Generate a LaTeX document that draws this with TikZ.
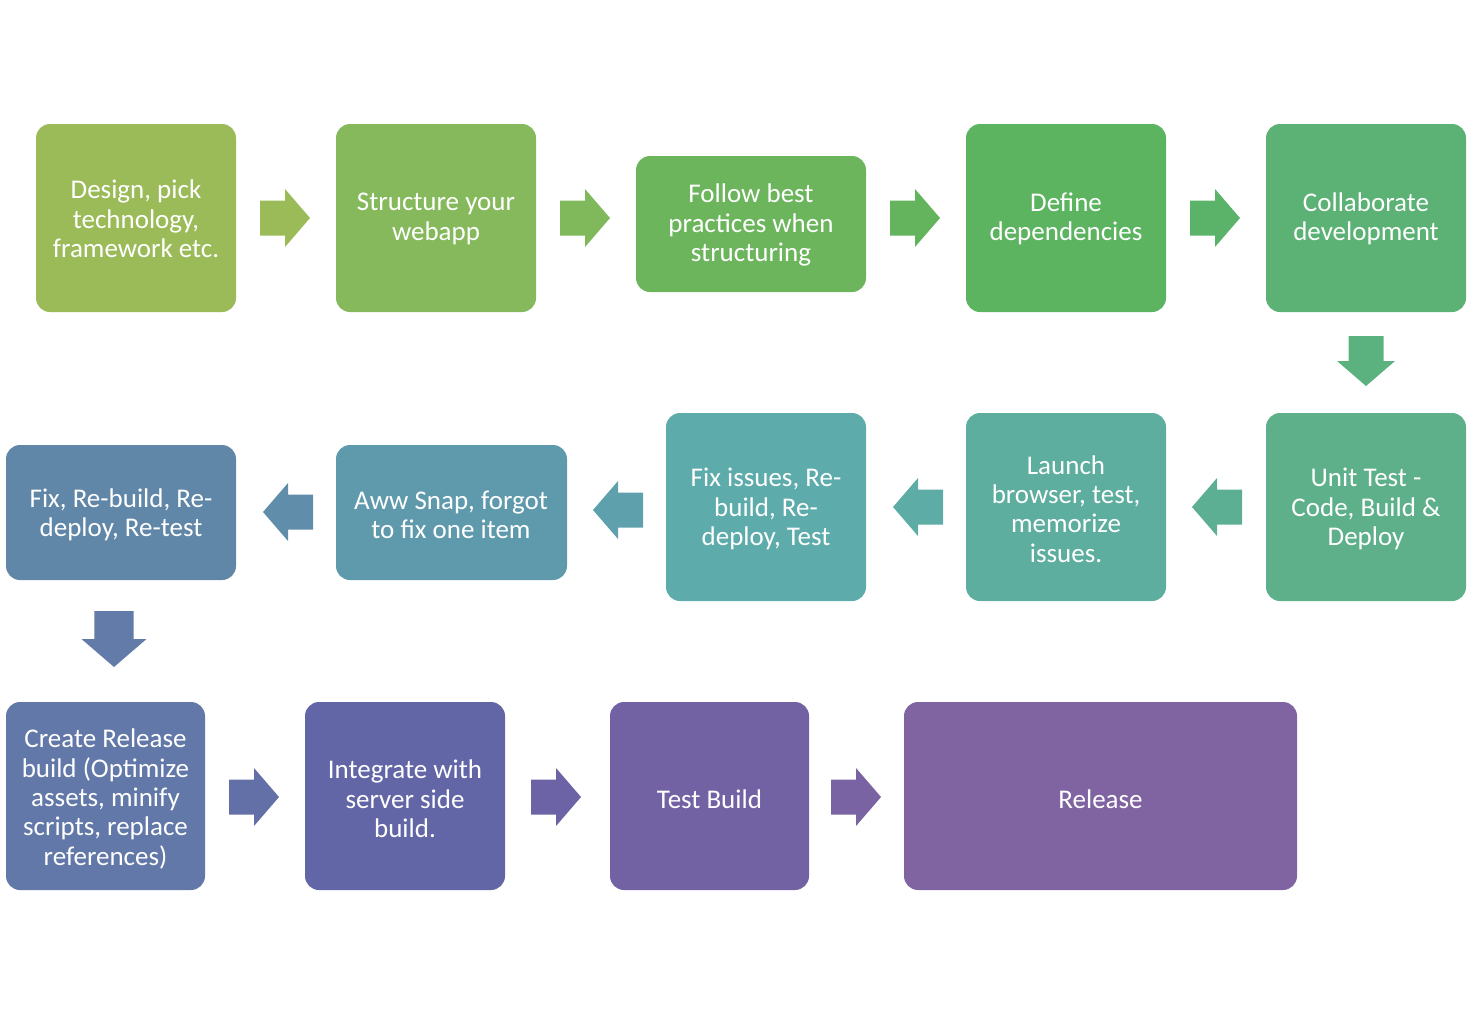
\documentclass[tikz,border=0pt]{standalone}
\usepackage{fontspec}
\setmainfont{Carlito}
\begin{document}
\begin{tikzpicture}[x=1pt,y=-1pt,
  box/.style={rounded corners=14pt,draw=none,text=white,align=center,
    font=\fontsize{27}{29.3}\selectfont,inner sep=0pt},
  rarr/.pic={\fill (-25,-17.5) -- (0,-17.5) -- (0,-29) -- (25,0) -- (0,29) -- (0,17.5) -- (-25,17.5) -- cycle;},
  larr/.pic={\fill (25,-17.5) -- (0,-17.5) -- (0,-29) -- (-25,0) -- (0,29) -- (0,17.5) -- (25,17.5) -- cycle;},
  darr/.pic={\fill (-17.5,-25) -- (-17.5,0) -- (-29,0) -- (0,25) -- (29,0) -- (17.5,0) -- (17.5,-25) -- cycle;}
]
\definecolor{c1}{HTML}{9BBB59}
\definecolor{c2}{HTML}{86B95C}
\definecolor{c3}{HTML}{6CB55D}
\definecolor{c4}{HTML}{5CB360}
\definecolor{c5}{HTML}{5BB274}
\definecolor{c6}{HTML}{5DB08A}
\definecolor{c7}{HTML}{5DAE9E}
\definecolor{c8}{HTML}{5DABAB}
\definecolor{c9}{HTML}{5F9AAC}
\definecolor{c10}{HTML}{6187A8}
\definecolor{c11}{HTML}{6278A8}
\definecolor{c12}{HTML}{6366A6}
\definecolor{c13}{HTML}{7262A4}
\definecolor{c14}{HTML}{8064A2}
\definecolor{a1}{HTML}{9BBB59}
\definecolor{a2}{HTML}{80B85C}
\definecolor{a3}{HTML}{64B45E}
\definecolor{a4}{HTML}{5BB36A}
\definecolor{a5}{HTML}{5CB27E}
\definecolor{a6}{HTML}{5DAF94}
\definecolor{a7}{HTML}{5DACA6}
\definecolor{a8}{HTML}{5EA1AC}
\definecolor{a9}{HTML}{608DAA}
\definecolor{a10}{HTML}{627BA8}
\definecolor{a11}{HTML}{6370A7}
\definecolor{a12}{HTML}{6B63A5}
\definecolor{a13}{HTML}{7A63A3}
\useasboundingbox (0,0) rectangle (1471,1026);
% row 1
\path[fill=c1,rounded corners=14pt] (36,124) rectangle (236,312);
\node[box] (b1) at (136,219) {Design, pick\\technology,\\framework etc.};
\path[fill=c2,rounded corners=14pt] (336,124) rectangle (536,312);
\node[box] (b2) at (436,219) {Structure your\\webapp};
\path[fill=c3,rounded corners=14pt] (636,156) rectangle (866,292);
\node[box] (b3) at (751,225) {Follow best\\practices when\\structuring};
\path[fill=c4,rounded corners=14pt] (966,124) rectangle (1166,312);
\node[box] (b4) at (1066,219) {Define\\dependencies};
\path[fill=c5,rounded corners=14pt] (1266,124) rectangle (1466,312);
\node[box] (b5) at (1366,219) {Collaborate\\development};
\pic[fill=a1] at (285,218) {rarr};
\pic[fill=a2] at (585,218) {rarr};
\pic[fill=a3] at (915,218) {rarr};
\pic[fill=a4] at (1215,218) {rarr};
\pic[fill=a5] at (1366,361) {darr};
% row 2
\path[fill=c6,rounded corners=14pt] (1266,413) rectangle (1466,601);
\node[box] (b6) at (1366,509) {Unit Test -\\Code, Build \&\\Deploy};
\path[fill=c7,rounded corners=14pt] (966,413) rectangle (1166,601);
\node[box] (b7) at (1066,509) {Launch\\browser, test,\\memorize\\issues.};
\path[fill=c8,rounded corners=14pt] (666,413) rectangle (866,601);
\node[box] (b8) at (766,509) {Fix issues, Re-\\build, Re-\\deploy, Test};
\path[fill=c9,rounded corners=14pt] (336,445) rectangle (567,580);
\node[box] (b9) at (451,515) {Aww Snap, forgot\\to fix one item};
\path[fill=c10,rounded corners=14pt] (6,445) rectangle (236,580);
\node[box] (b10) at (121,515) {Fix, Re-build, Re-\\deploy, Re-test};
\pic[fill=a6] at (1217,507) {larr};
\pic[fill=a7] at (918,507) {larr};
\pic[fill=a8] at (618,510) {larr};
\pic[fill=a9] at (288,512) {larr};
\pic[fill=a10,scale=1.12] at (114,639) {darr};
% row 3
\path[fill=c11,rounded corners=14pt] (6,702) rectangle (205,890);
\node[box] (b11) at (105.5,799) {Create Release\\build (Optimize\\assets, minify\\scripts, replace\\references)};
\path[fill=c12,rounded corners=14pt] (305,702) rectangle (505,890);
\node[box] (b12) at (405,799) {Integrate with\\server side\\build.};
\path[fill=c13,rounded corners=14pt] (610,702) rectangle (809,890);
\node[box] (b13) at (709.5,799) {Test Build};
\path[fill=c14,rounded corners=14pt] (904,702) rectangle (1297,890);
\node[box] (b14) at (1100.5,799) {Release};
\pic[fill=a11] at (254,797) {rarr};
\pic[fill=a12] at (556,797) {rarr};
\pic[fill=a13] at (856,797) {rarr};
\end{tikzpicture}
\end{document}
